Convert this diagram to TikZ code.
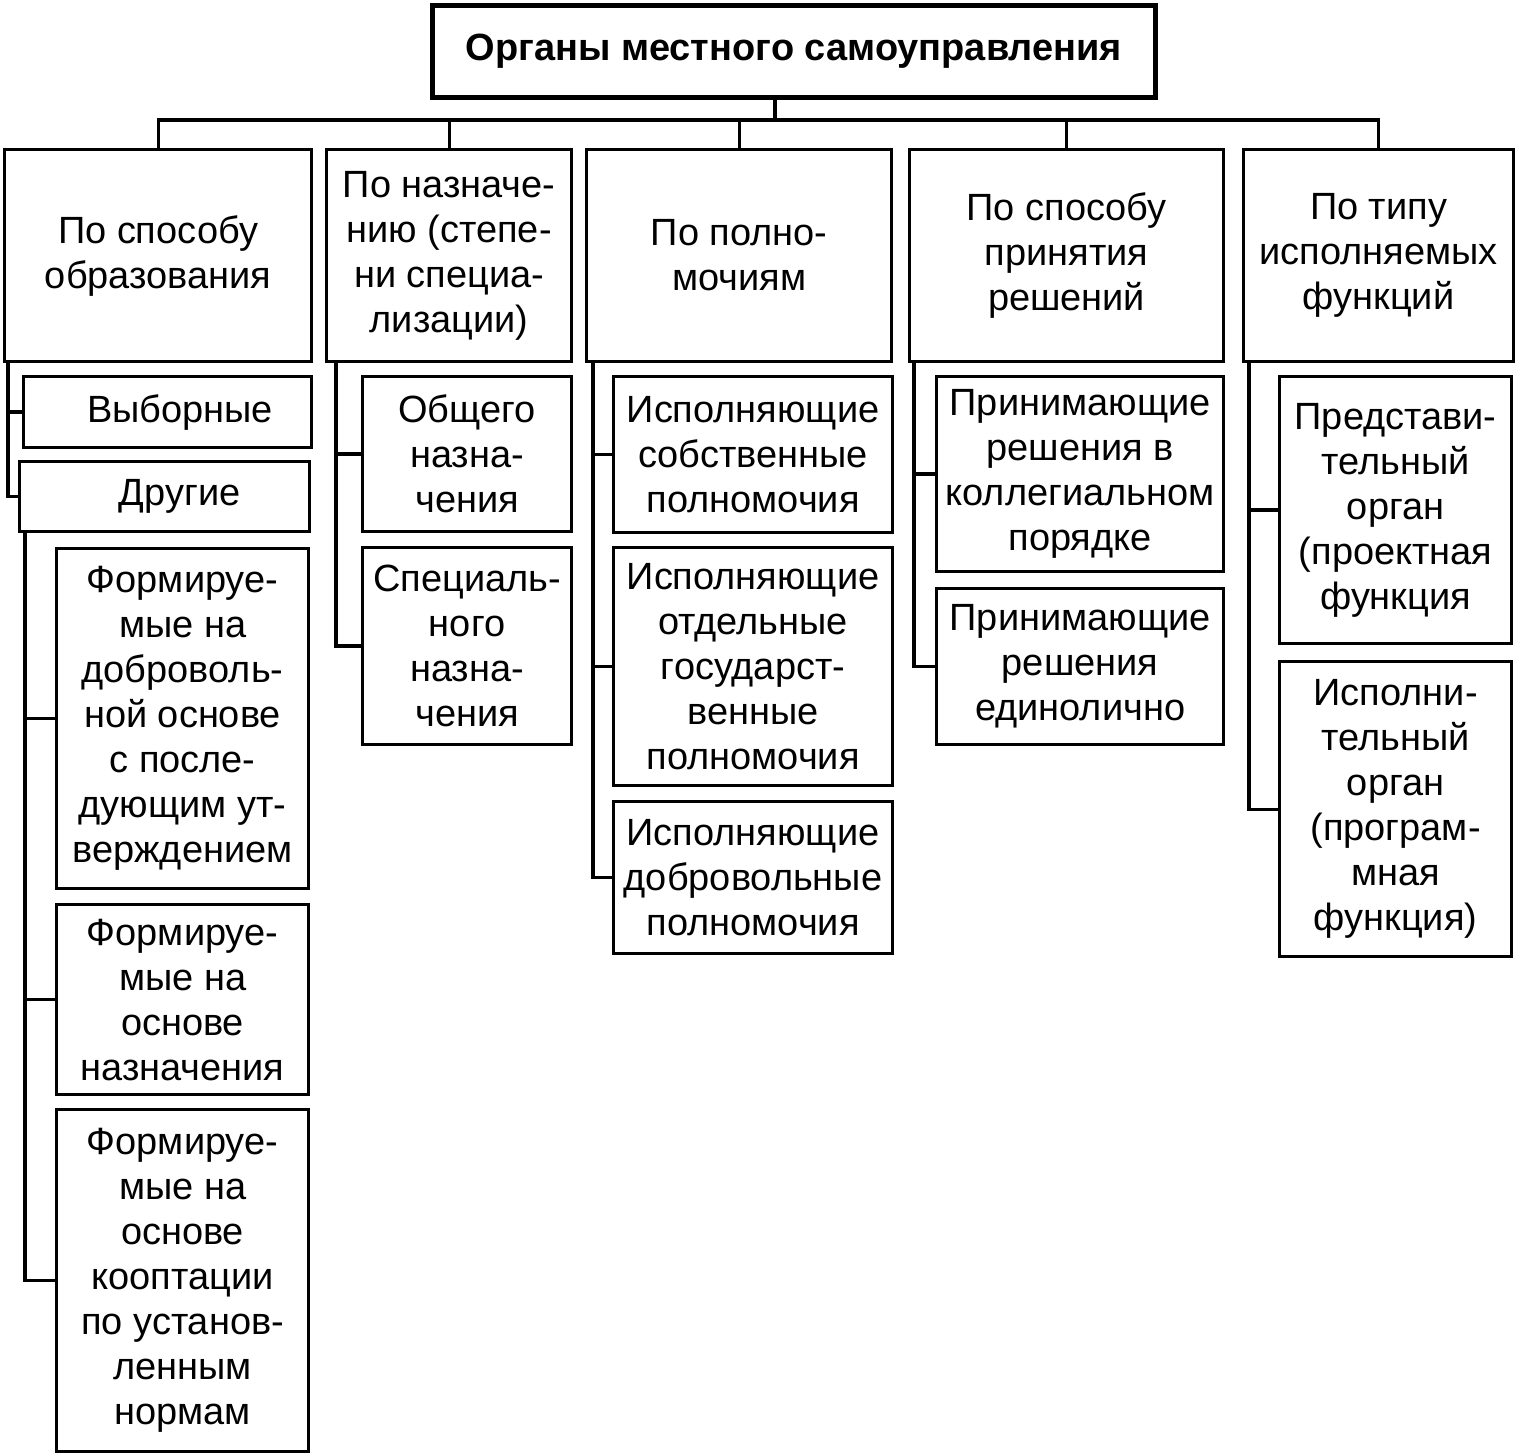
\documentclass[tikz,border=0pt]{standalone}
\usepackage{fontspec}
\setmainfont{Liberation Sans}

\begin{document}
\begin{tikzpicture}[
  box/.style={draw, line width=0.9pt, anchor=north west, align=center, inner sep=0pt,
    font=\fontsize{10.8}{12.8}\selectfont},
  link/.style={line width=0.9pt}]
  \useasboundingbox (0,0) rectangle (15.16,-14.53);
  % root
  \node[box, line width=1.3pt, minimum width=7.23cm, minimum height=0.92cm,
    font=\bfseries\fontsize{10.8}{12.8}\selectfont] (root) at (4.30,-0.03) {Органы местного самоуправления};
  % classification criteria
  \node[box, minimum width=3.07cm, minimum height=2.12cm] (c1) at (0.03,-1.48) {По способу\\образования};
  \node[box, minimum width=2.45cm, minimum height=2.12cm] (c2) at (3.25,-1.48) {По назначе-\\нию (степе-\\ни специа-\\лизации)};
  \node[box, minimum width=3.05cm, minimum height=2.12cm] (c3) at (5.85,-1.48) {По полно-\\мочиям};
  \node[box, minimum width=3.14cm, minimum height=2.12cm] (c4) at (9.08,-1.48) {По способу\\принятия\\решений};
  \node[box, minimum width=2.70cm, minimum height=2.12cm] (c5) at (12.42,-1.48) {По типу\\исполняемых\\функций};
  % first column
  \node[box, minimum width=2.88cm, minimum height=0.71cm] (c1a) at (0.22,-3.75) {\hspace{0.25cm}Выборные};
  \node[box, minimum width=2.90cm, minimum height=0.70cm] (c1b) at (0.18,-4.60) {\hspace{0.3cm}Другие};
  \node[box, minimum width=2.52cm, minimum height=3.40cm] (f1) at (0.55,-5.47) {Формируе-\\мые на\\доброволь-\\ной основе\\с после-\\дующим ут-\\верждением};
  \node[box, minimum width=2.52cm, minimum height=1.90cm] (f2) at (0.55,-9.03) {Формируе-\\мые на\\основе\\назначения};
  \node[box, minimum width=2.52cm, minimum height=3.42cm] (f3) at (0.55,-11.08) {Формируе-\\мые на\\основе\\кооптации\\по установ-\\ленным\\нормам};
  % second column
  \node[box, minimum width=2.09cm, minimum height=1.55cm] (c2a) at (3.61,-3.75) {Общего\\назна-\\чения};
  \node[box, minimum width=2.09cm, minimum height=1.97cm] (c2b) at (3.61,-5.46) {Специаль-\\ного\\назна-\\чения};
  % third column
  \node[box, minimum width=2.79cm, minimum height=1.56cm] (c3a) at (6.12,-3.75) {Исполняющие\\собственные\\полномочия};
  \node[box, minimum width=2.79cm, minimum height=2.38cm] (c3b) at (6.12,-5.46) {Исполняющие\\отдельные\\государст-\\венные\\полномочия};
  \node[box, minimum width=2.79cm, minimum height=1.52cm] (c3c) at (6.12,-8.00) {Исполняющие\\добровольные\\полномочия};
  % fourth column
  \node[box, minimum width=2.87cm, minimum height=1.95cm] (c4a) at (9.35,-3.75) {Принимающие\\решения в\\коллегиальном\\порядке};
  \node[box, minimum width=2.87cm, minimum height=1.56cm] (c4b) at (9.35,-5.87) {Принимающие\\решения\\единолично};
  % fifth column
  \node[box, minimum width=2.32cm, minimum height=2.67cm] (c5a) at (12.78,-3.75) {Представи-\\тельный\\орган\\(проектная\\функция};
  \node[box, minimum width=2.32cm, minimum height=2.95cm] (c5b) at (12.78,-6.60) {Исполни-\\тельный\\орган\\(програм-\\мная\\функция)};
  % bus from root
  \coordinate (bus) at (7.75,-1.20);
  \draw[link] (root.south -| bus) -- (bus);
  \draw[link] (c1.north) |- (bus) -| (c5.north);
  \foreach \c in {c2,c3,c4}
    \draw[link] (\c.north) -- (\c.north |- bus);
  % branches
  \foreach \p/\k/\s in {c1/c1a/0.05, c1/c1b/0.05, c1b/f1/0.07, c1b/f2/0.07, c1b/f3/0.07,
      c2/c2a/0.11, c2/c2b/0.11, c3/c3a/0.08, c3/c3b/0.08, c3/c3c/0.08,
      c4/c4a/0.06, c4/c4b/0.06, c5/c5a/0.07, c5/c5b/0.07}
    \draw[link] ([xshift=\s cm]\p.south west) |- (\k.west);
\end{tikzpicture}
\end{document}
